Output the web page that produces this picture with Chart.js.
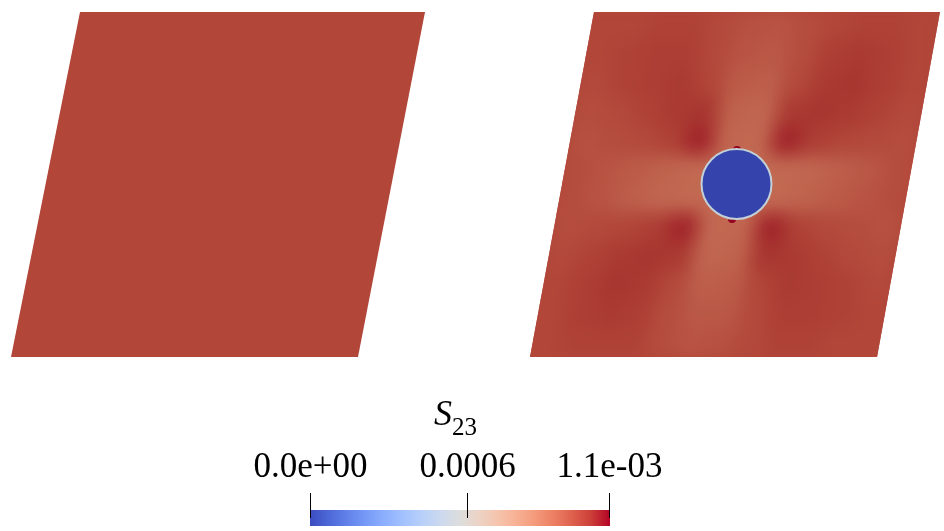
<!DOCTYPE html>
<html lang="en">
<head>
<meta charset="UTF-8">
<title>S23 field</title>
<style>
  html, body { margin: 0; padding: 0; background: #fff; }
  #wrap { width: 944px; height: 531px; position: relative; }
</style>
</head>
<body>
<div id="wrap"><canvas id="scene"></canvas></div>
<script src="https://cdn.jsdelivr.net/npm/chart.js"></script>
<script>
// scene units run 0..944 across and 0..531 down, like the rendered view
const plateLeft  = [{x: 80, y: 12}, {x: 425, y: 12}, {x: 358, y: 357}, {x: 11, y: 357}];
const plateRight = [{x: 594, y: 12}, {x: 940, y: 12}, {x: 877, y: 357}, {x: 530, y: 357}];
const holeCentre = {x: 736.5, y: 184};
const holeRadius = 35;
const rimSpots = [{x: 737, y: 150}, {x: 732, y: 219}];

// S23 values, in units of 1e-3
const uniformS23 = 1.03;
const holeS23 = 0.0;
const rimS23 = 1.15;
// right plate, sampled on a 12 x 12 grid (rows top to bottom)
const s23Grid = [
  [1.03, 1.03, 1.04, 1.04, 1.02, 1.00, 0.99, 1.01, 1.03, 1.04, 1.04, 1.03],
  [1.03, 1.04, 1.05, 1.05, 1.02, 0.99, 0.98, 1.01, 1.05, 1.06, 1.05, 1.03],
  [1.02, 1.04, 1.05, 1.06, 1.03, 0.97, 0.96, 1.02, 1.06, 1.07, 1.05, 1.03],
  [1.01, 1.02, 1.04, 1.06, 1.07, 0.95, 0.94, 1.06, 1.07, 1.06, 1.04, 1.02],
  [1.00, 1.01, 1.02, 1.04, 1.10, 0.94, 0.93, 1.10, 1.05, 1.03, 1.02, 1.01],
  [1.01, 0.99, 0.97, 0.95, 0.93, 0.93, 0.93, 0.93, 0.94, 0.96, 0.98, 1.01],
  [1.01, 0.99, 0.96, 0.94, 0.93, 0.93, 0.93, 0.93, 0.95, 0.97, 0.99, 1.01],
  [1.01, 1.02, 1.03, 1.05, 1.10, 0.93, 0.94, 1.10, 1.04, 1.02, 1.01, 1.00],
  [1.02, 1.04, 1.06, 1.07, 1.06, 0.94, 0.95, 1.07, 1.06, 1.04, 1.02, 1.01],
  [1.03, 1.05, 1.07, 1.06, 1.02, 0.96, 0.97, 1.03, 1.06, 1.05, 1.04, 1.02],
  [1.03, 1.05, 1.06, 1.05, 1.01, 0.98, 0.98, 1.02, 1.05, 1.05, 1.04, 1.03],
  [1.03, 1.04, 1.04, 1.04, 1.01, 0.99, 1.00, 1.02, 1.04, 1.04, 1.03, 1.03]
];

// colour bar
const cbarMin = 0;
const cbarMax = 1.15e-3;
const cbarTicks = [0, 0.0006, 0.00115];
const cbarLabels = ['0.0e+00', '0.0006', '1.1e-03'];
const cbarBox = {x0: 310, x1: 610, y0: 510, y1: 526, tickTop: 493, labelBase: 477};
const cbarTitle = {x: 434, y: 425};

// ParaView "Cool to Warm"
const coolWarm = [
  [59, 76, 192], [77, 104, 215], [98, 130, 234], [119, 154, 247], [141, 176, 254],
  [163, 194, 255], [184, 208, 249], [204, 217, 238], [221, 221, 221], [236, 211, 197],
  [245, 196, 173], [247, 177, 148], [244, 154, 123], [236, 127, 99], [222, 96, 77],
  [203, 62, 56], [180, 4, 38]
];
const SHADE = 0.82; // lighting on the plates

function mapColour(f) {
  f = Math.min(1, Math.max(0, f));
  const p = f * (coolWarm.length - 1);
  const i = Math.min(coolWarm.length - 2, Math.floor(p));
  const t = p - i;
  return coolWarm[i].map((c, k) => c + (coolWarm[i + 1][k] - c) * t);
}
function rgb(c, k) {
  return 'rgb(' + c.map(v => Math.round(v * k)).join(',') + ')';
}
function litColour(s, shade = SHADE) {
  return rgb(mapColour((s * 1e-3 - cbarMin) / (cbarMax - cbarMin)), shade);
}
const closed = pts => pts.concat([pts[0]]);

// smooth field drawn over the right plate, clipped to it
const s23Field = {
  id: 's23Field',
  afterDatasetDraw(chart, args) {
    if (chart.data.datasets[args.index].id !== 'plateRight') return;
    const {ctx, scales: {x: xs, y: ys}} = chart;
    const [tl, tr, br, bl] = plateRight;
    const at = (u, v) => ({
      x: xs.getPixelForValue(tl.x * (1 - u) * (1 - v) + tr.x * u * (1 - v) + br.x * u * v + bl.x * (1 - u) * v),
      y: ys.getPixelForValue(tl.y * (1 - u) * (1 - v) + tr.y * u * (1 - v) + br.y * u * v + bl.y * (1 - u) * v)
    });
    const rows = s23Grid.length, cols = s23Grid[0].length;
    const off = document.createElement('canvas');
    off.width = chart.width;
    off.height = chart.height;
    const o = off.getContext('2d');
    o.fillStyle = litColour(uniformS23);
    o.fillRect(0, 0, off.width, off.height);
    s23Grid.forEach((row, j) => row.forEach((s, i) => {
      const q = [at(i / cols, j / rows), at((i + 1) / cols, j / rows),
                 at((i + 1) / cols, (j + 1) / rows), at(i / cols, (j + 1) / rows)];
      o.fillStyle = o.strokeStyle = litColour(s);
      o.lineWidth = 1;
      o.beginPath();
      q.forEach((p, k) => k ? o.lineTo(p.x, p.y) : o.moveTo(p.x, p.y));
      o.closePath();
      o.fill();
      o.stroke();
    }));
    ctx.save();
    ctx.beginPath();
    args.meta.data.forEach((p, k) => k ? ctx.lineTo(p.x, p.y) : ctx.moveTo(p.x, p.y));
    ctx.closePath();
    ctx.clip();
    ctx.filter = 'blur(9px)';
    ctx.drawImage(off, 0, 0);
    ctx.restore();
  }
};

// colour bar with ticks, labels and title
const colourBar = {
  id: 'colourBar',
  afterDraw(chart) {
    const {ctx, scales: {x: xs, y: ys}} = chart;
    const x0 = xs.getPixelForValue(cbarBox.x0), x1 = xs.getPixelForValue(cbarBox.x1);
    const y0 = ys.getPixelForValue(cbarBox.y0), y1 = ys.getPixelForValue(cbarBox.y1);
    const grad = ctx.createLinearGradient(x0, 0, x1, 0);
    coolWarm.forEach((c, k) => grad.addColorStop(k / (coolWarm.length - 1), rgb(c, 1)));
    ctx.save();
    ctx.fillStyle = grad;
    ctx.fillRect(x0, y0, x1 - x0, y1 - y0);

    const tickTop = ys.getPixelForValue(cbarBox.tickTop);
    const labelBase = ys.getPixelForValue(cbarBox.labelBase);
    ctx.strokeStyle = '#000';
    ctx.lineWidth = 1;
    ctx.fillStyle = '#000';
    ctx.font = '35px "Liberation Serif"';
    ctx.textAlign = 'center';
    ctx.textBaseline = 'alphabetic';
    cbarTicks.forEach((v, k) => {
      let tx = x0 + (v - cbarMin) / (cbarMax - cbarMin) * (x1 - x0);
      tx = Math.min(x1 - 0.5, Math.max(x0 + 0.5, Math.round(tx) + 0.5));
      ctx.beginPath();
      ctx.moveTo(tx, tickTop);
      ctx.lineTo(tx, y0 + 8);
      ctx.stroke();
      ctx.fillText(cbarLabels[k], tx, labelBase);
    });

    const tx = xs.getPixelForValue(cbarTitle.x), ty = ys.getPixelForValue(cbarTitle.y);
    ctx.textAlign = 'left';
    ctx.font = 'italic 36px "Liberation Serif"';
    ctx.fillText('S', tx, ty);
    const w = ctx.measureText('S').width;
    ctx.font = '25px "Liberation Serif"';
    ctx.fillText('23', tx + w, ty + 10);
    ctx.restore();
  }
};

new Chart(document.getElementById('scene'), {
  type: 'scatter',
  data: {
    datasets: [
      {
        id: 'hole',
        data: [holeCentre],
        pointRadius: c => Math.abs(c.chart.scales.x.getPixelForValue(holeRadius) - c.chart.scales.x.getPixelForValue(0)),
        backgroundColor: litColour(holeS23, 0.9),
        borderColor: '#c3d0d6',
        borderWidth: 2
      },
      {
        id: 'rim',
        data: rimSpots,
        pointRadius: 4,
        backgroundColor: litColour(rimS23),
        borderWidth: 0
      },
      {
        id: 'plateRight',
        type: 'line',
        data: closed(plateRight),
        fill: 'shape',
        backgroundColor: litColour(uniformS23),
        borderColor: 'rgba(0,0,0,0)',
        borderWidth: 0,
        pointRadius: 0
      },
      {
        id: 'plateLeft',
        type: 'line',
        data: closed(plateLeft),
        fill: 'shape',
        backgroundColor: litColour(uniformS23),
        borderColor: 'rgba(0,0,0,0)',
        borderWidth: 0,
        pointRadius: 0
      }
    ]
  },
  options: {
    responsive: true,
    maintainAspectRatio: false,
    animation: false,
    events: [],
    layout: { padding: 0, autoPadding: false },
    scales: {
      x: { type: 'linear', min: 0, max: 944, display: false },
      y: { type: 'linear', min: 0, max: 531, reverse: true, display: false }
    },
    plugins: {
      legend: { display: false },
      tooltip: { enabled: false }
    }
  },
  plugins: [s23Field, colourBar]
});
</script>
</body>
</html>
